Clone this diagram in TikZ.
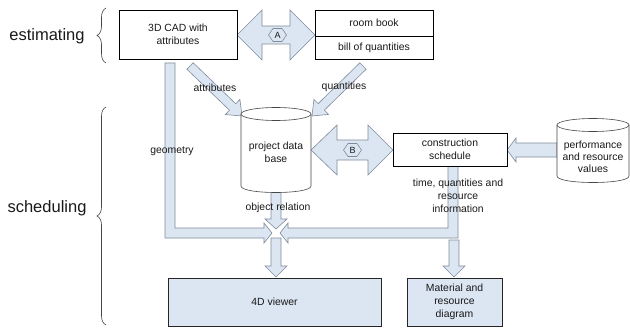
\documentclass[tikz,border=0pt]{standalone}
\usepackage{fontspec}
\setmainfont{Liberation Sans}
\usetikzlibrary{calc,decorations.pathreplacing}
\definecolor{afill}{RGB}{220,230,242}
\definecolor{aline}{RGB}{128,140,156}
\definecolor{txt}{RGB}{25,25,25}
\definecolor{bline}{RGB}{70,70,70}
\newcommand{\blkarrow}[5]{%
  \coordinate (bh) at ($(#2)!#5!(#1)$);
  \draw[blockarrow] ($(#1)!#3!90:(#2)$) -- ($(bh)!#3!90:(#2)$) -- ($(bh)!#4!90:(#2)$) -- (#2) -- ($(bh)!#4!-90:(#2)$) -- ($(bh)!#3!-90:(#2)$) -- ($(#1)!#3!-90:(#2)$) -- cycle;}
\begin{document}
\begin{tikzpicture}[x=1pt,y=-1pt,
  font=\fontsize{10.4}{13}\selectfont,
  blockarrow/.style={draw=aline,fill=afill,line width=0.6pt,line join=miter},
  box/.style={draw=black,line width=0.7pt,fill=white,align=center,text=txt,inner sep=0pt},
  bluebox/.style={draw=black!85,line width=0.7pt,fill=afill,align=center,text=txt,inner sep=0pt},
  lbl/.style={text=txt,align=center,inner sep=0pt},
  bigl/.style={text=txt,font=\fontsize{16.5}{19}\selectfont,inner sep=0pt},
  hexa/.style={draw=aline,fill=afill,line width=0.6pt},
  cylline/.style={draw=bline,line width=0.6pt},
  bracestyle/.style={draw=bline,line width=0.6pt,decorate,decoration={brace,amplitude=9pt}},
]
\useasboundingbox (0,0) rectangle (630,329);

% coordinates for connectors
\coordinate (attS) at (190,66);  \coordinate (attT) at (242,116);
\coordinate (qtyS) at (363,66);  \coordinate (qtyT) at (312,116);
\coordinate (perfS) at (557,150); \coordinate (perfT) at (507,150);
\coordinate (dbS) at (276,190);  \coordinate (dbT) at (276,229);
\coordinate (vwS) at (276,238);  \coordinate (vwT) at (276,277);
\coordinate (mtS) at (454,240);  \coordinate (mtT) at (454,277);

% geometry bar with arrow into cross
\draw[blockarrow] (165,63) -- (175,63) -- (175,228) -- (264,228) -- (264,223) -- (272,233)
  -- (264,243) -- (264,238) -- (165,238) -- cycle;
% construction schedule bar with arrow into cross
\draw[blockarrow] (448,166) -- (458,166) -- (458,238) -- (288,238) -- (288,243) -- (280,233)
  -- (288,223) -- (288,228) -- (448,228) -- cycle;

% A double arrow
\draw[blockarrow] (237,35) -- (262,10) -- (262,26) -- (290,26) -- (290,10) -- (315,35)
  -- (290,60) -- (290,44) -- (262,44) -- (262,60) -- cycle;
% B double arrow
\draw[blockarrow] (311,150) -- (337,125) -- (337,140) -- (368,140) -- (368,125) -- (393,150)
  -- (368,175) -- (368,160) -- (337,160) -- (337,175) -- cycle;

\blkarrow{attS}{attT}{4.5pt}{10.5pt}{13pt}
\blkarrow{qtyS}{qtyT}{4.5pt}{10.5pt}{13pt}
\blkarrow{perfS}{perfT}{7pt}{12pt}{9pt}
\blkarrow{dbS}{dbT}{5pt}{11pt}{10pt}
\blkarrow{vwS}{vwT}{5pt}{11pt}{11pt}
\blkarrow{mtS}{mtT}{5pt}{11pt}{11pt}

% hexagons
\draw[hexa] (268.5,35) -- (273,28.5) -- (282,28.5) -- (286.5,35) -- (282,41.5) -- (273,41.5) -- cycle;
\node[lbl,font=\fontsize{9}{10}\selectfont] (hexA) at (277.5,35) {A};
\draw[hexa] (343.5,150) -- (348,143.5) -- (357,143.5) -- (361.5,150) -- (357,156.5) -- (348,156.5) -- cycle;
\node[lbl,font=\fontsize{9}{10}\selectfont] (hexB) at (352.5,150) {B};

% boxes
\node[box,minimum width=118pt,minimum height=49pt] (cad) at (178,34.5) {3D CAD with\\attributes};
\node[box,minimum width=118pt,minimum height=26pt] (room) at (374,23) {room book};
\node[box,minimum width=118pt,minimum height=23pt] (bill) at (374,47.5) {bill of quantities};
\node[box,minimum width=114pt,minimum height=33pt] (cons) at (450,149.5) {construction\\schedule};
\node[bluebox,minimum width=213pt,minimum height=48pt] (viewer) at (274.5,302) {4D viewer};
\node[bluebox,minimum width=95pt,minimum height=48pt] (mat) at (454.5,302) {Material and\\resource\\diagram};

% project data base cylinder
\fill[white] (241,114) -- (241,186) .. controls (241,194.67) and (311,194.67) .. (311,186) -- (311,114) -- cycle;
\draw[cylline] (241,114) -- (241,186) .. controls (241,194.67) and (311,194.67) .. (311,186) -- (311,114);
\draw[cylline,fill=white] (276,114) ellipse [x radius=35, y radius=6.5];
\node[lbl] (db) at (276,152) {project data\\base};

% performance cylinder
\fill[white] (557,125) -- (557,176) .. controls (557,184.67) and (629,184.67) .. (629,176) -- (629,125) -- cycle;
\draw[cylline] (557,125) -- (557,176) .. controls (557,184.67) and (629,184.67) .. (629,176) -- (629,125);
\draw[cylline,fill=white] (593,125) ellipse [x radius=36, y radius=6.5];
\node[lbl,font=\fontsize{10.4}{12}\selectfont] (perf) at (593,157) {performance\\and resource\\values};

% labels
\node[lbl] (lattr) at (215,88) {attributes};
\node[lbl] (lqty) at (344,87) {quantities};
\node[lbl] (lgeo) at (172,151) {geometry};
\node[lbl] (lobj) at (278,208) {object relation};
\node[lbl] (ltime) at (458,196) {time, quantities and\\resource\\information};

% phase labels and braces
\node[bigl] (lest) at (47,36) {estimating};
\node[bigl] (lsch) at (47,208) {scheduling};
\draw[bracestyle] (106,63) -- (106,8);
\draw[bracestyle] (106,325) -- (106,107);
\end{tikzpicture}
\end{document}
